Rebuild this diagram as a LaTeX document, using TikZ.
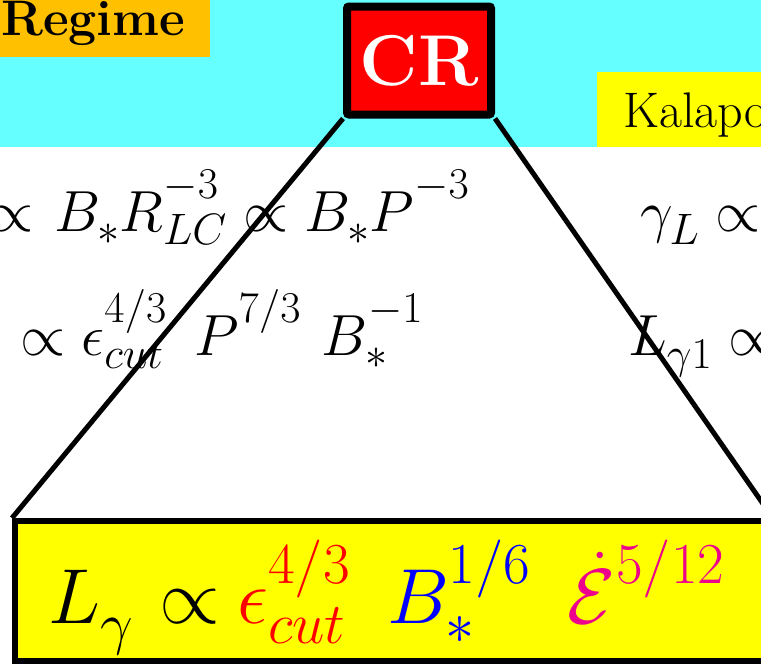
\RequirePackage{fix-cm}
\documentclass[tikz,border=0pt]{standalone}
\DeclareMathSizes{58}{58}{44}{34}
\DeclareMathSizes{78}{78}{58}{44}
\newcommand\scriptpos[2]{\fontdimen13\textfont2=#1\relax
  \fontdimen14\textfont2=#1\relax\fontdimen15\textfont2=#1\relax
  \fontdimen16\textfont2=#2\relax\fontdimen17\textfont2=#2\relax}
\definecolor{bandcyan}{HTML}{66FFFF}
\definecolor{regorange}{HTML}{FFC000}
\definecolor{boxyellow}{HTML}{FFFF00}
\tikzset{
  formula/.style={anchor=base west, inner sep=0pt, text=black},
  trapline/.style={line width=5pt, black},
}
\begin{document}
\begin{tikzpicture}[x=1pt,y=-1pt]
\useasboundingbox (0,0) rectangle (761,664);
\clip (0,0) rectangle (761,664);
% background
\fill[white] (0,0) rectangle (761,664);
\fill[bandcyan] (0,0) rectangle (761,147);
% label boxes
\fill[regorange] (0,0) rectangle (210,57);
\node[formula] (regime) at (1,35) {\fontsize{50}{50}\selectfont\bfseries Regime};
\fill[boxyellow] (597,72) rectangle (761,147);
\node[formula] (kal) at (623,127) {\fontsize{50}{50}\selectfont Kalapo};
% CR box
\node[draw=black, line width=8pt, fill=red, rounded corners=2pt,
      minimum width=144pt, minimum height=108pt, inner sep=0pt,
      text=white, font=\fontsize{72}{72}\selectfont\bfseries] (cr) at (419,60.5) {CR};
% bottom box
\node[draw=black, line width=6pt, fill=boxyellow, minimum width=785pt,
      minimum height=140pt, inner sep=0pt] (bot) at (407.5,591) {};
\coordinate (botR) at (775,521);
% formulas
\begin{scope}[font=\fontsize{58}{60}\selectfont]
\node[formula] (r1) at (-12,231)
  {$\scriptpos{33pt}{13pt}\propto\mkern1.5mu B_*R_{LC}^{-3}\propto B_*P^{-3}$};
\node[formula] (r2) at (20,355)
  {$\scriptpos{33pt}{13pt}\propto \epsilon_{cut}^{4/3}\mkern8.5mu P^{7/3}\mkern6.5mu B_*^{-1}$};
\node[formula] (r3) at (640,231) {$\gamma_L \propto$};
\node[formula] (r4) at (628,355) {$L_{\gamma 1} \propto$};
\end{scope}
\node[formula, font=\fontsize{78}{80}\selectfont] (main) at (48,623)
  {$\scriptpos{40pt}{20pt}L_\gamma\mkern1mu\propto\mkern-1mu {\color{red}\epsilon_{cut}^{4/3}}\mkern8.5mu{\color{blue}B_*^{1/6}}\mkern8.5mu{\color{magenta}\dot{\mathcal{E}}^{5/12}}$};
% trapezoid sides, over the text
\draw[trapline] (cr.south west) -- (bot.north west);
\draw[trapline] (cr.south east) -- (botR);
\end{tikzpicture}
\end{document}
